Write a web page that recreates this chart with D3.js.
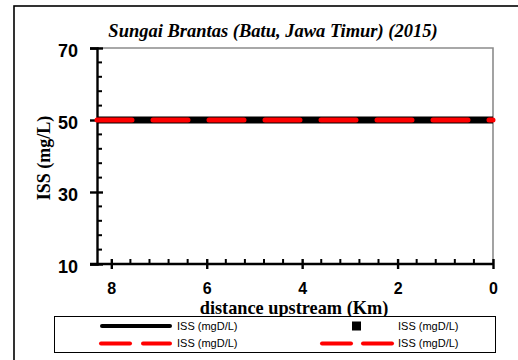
<!DOCTYPE html>
<html>
<head>
<meta charset="utf-8">
<script src="https://cdn.jsdelivr.net/npm/d3@7"></script>
<style>
  html, body { margin: 0; padding: 0; background: #fff; }
  svg { display: block; }
</style>
</head>
<body>
<svg id="chart" width="518" height="360"></svg>
<script>
// Inorganic suspended solids along the river, by distance upstream
const distanceKm = [8.3, 0];
const issObserved = [50, 50];   // solid black series
const issModel = [50, 50];      // dashed red series
const yTicks = [10, 30, 50, 70];
const xTicks = [8, 6, 4, 2, 0];
const legendLabels = ["ISS (mgD/L)", "ISS (mgD/L)", "ISS (mgD/L)", "ISS (mgD/L)"];
const chartTitle = "Sungai Brantas (Batu, Jawa Timur) (2015)";

const svg = d3.select("#chart");
const serif = "'Liberation Serif', 'Times New Roman', serif";
const sans = "'Liberation Sans', Arial, sans-serif";

// outer frame
svg.append("rect")
  .attr("x", 14).attr("y", 6).attr("width", 560).attr("height", 420)
  .attr("fill", "none").attr("stroke", "#000").attr("stroke-width", 1.6);

const plotL = 97, plotR = 493, plotT = 48, plotB = 264;
const x = d3.scaleLinear().domain([8.3, 0]).range([plotL, plotR]);
const y = d3.scaleLinear().domain([10, 70]).range([plotB, plotT]);

// grey top/right frame of the plot area
svg.append("path")
  .attr("d", `M${plotL},${plotT}H${plotR}V${plotB}`)
  .attr("fill", "none").attr("stroke", "#8c8c8c").attr("stroke-width", 1.6);

// minor ticks (inward)
const yMinor = d3.range(10, 70.001, 4).filter(v => !yTicks.includes(v));
svg.append("g").selectAll("line").data(yMinor).join("line")
  .attr("x1", plotL).attr("x2", plotL + 5)
  .attr("y1", d => y(d)).attr("y2", d => y(d))
  .attr("stroke", "#000").attr("stroke-width", 2);
const xMinor = d3.range(0, 8.3, 0.4).filter(v => !xTicks.some(t => Math.abs(t - v) < 1e-6));
svg.append("g").selectAll("line").data(xMinor).join("line")
  .attr("x1", d => x(d)).attr("x2", d => x(d))
  .attr("y1", plotB).attr("y2", plotB - 5)
  .attr("stroke", "#000").attr("stroke-width", 2);

// y axis
const yAxis = svg.append("g").attr("transform", `translate(${plotL},0)`)
  .call(d3.axisLeft(y).tickValues(yTicks).tickSize(7).tickPadding(12));
yAxis.select(".domain").attr("stroke-width", 2.4);
yAxis.selectAll(".tick line").attr("x2", -7).attr("x1", 6).attr("stroke-width", 2.4);
yAxis.selectAll(".tick text")
  .attr("font-family", sans).attr("font-weight", "bold").attr("font-size", 18)
  .attr("dy", "0.45em").attr("fill", "#000");

// x axis
const xAxis = svg.append("g").attr("transform", `translate(0,${plotB})`)
  .call(d3.axisBottom(x).tickValues(xTicks).tickSize(5).tickPadding(14));
xAxis.select(".domain").attr("stroke-width", 2.4)
  .attr("d", `M${plotL - 7},0H${plotR}`);
xAxis.selectAll(".tick line").attr("y1", -5).attr("y2", 5).attr("stroke-width", 2.4);
xAxis.selectAll(".tick text")
  .attr("font-family", sans).attr("font-weight", "bold").attr("font-size", 16)
  .attr("fill", "#000");

// series
const pts = (vals) => distanceKm.map((d, i) => [d, vals[i]]);
const line = d3.line().x(d => x(d[0])).y(d => y(d[1]));
svg.append("path").datum(pts(issObserved)).attr("d", line)
  .attr("fill", "none").attr("stroke", "#000").attr("stroke-width", 7);
svg.append("path").datum(pts(issModel)).attr("d", line)
  .attr("fill", "none").attr("stroke", "#ff0000").attr("stroke-width", 5)
  .attr("stroke-linecap", "round").attr("stroke-dasharray", "35,21");

// title and axis labels
svg.append("text").attr("x", 273).attr("y", 37).attr("text-anchor", "middle")
  .attr("font-family", serif).attr("font-weight", "bold").attr("font-style", "italic")
  .attr("font-size", 18.5).text(chartTitle);
svg.append("text").attr("transform", "translate(50,158) rotate(-90)")
  .attr("text-anchor", "middle")
  .attr("font-family", serif).attr("font-weight", "bold").attr("font-size", 18)
  .text("ISS (mg/L)");
svg.append("text").attr("x", 294).attr("y", 314).attr("text-anchor", "middle")
  .attr("font-family", serif).attr("font-weight", "bold").attr("font-size", 18.3)
  .text("distance upstream (Km)");

// legend
const lg = svg.append("g");
lg.append("rect").attr("x", 54.5).attr("y", 316.5).attr("width", 441).attr("height", 36)
  .attr("fill", "#fff").attr("stroke", "#000").attr("stroke-width", 1);
const rows = [326, 343.5];
lg.append("line").attr("x1", 102).attr("x2", 170).attr("y1", rows[0]).attr("y2", rows[0])
  .attr("stroke", "#000").attr("stroke-width", 4).attr("stroke-linecap", "round");
lg.append("rect").attr("x", 352).attr("y", rows[0] - 4.5).attr("width", 9).attr("height", 9)
  .attr("fill", "#000");
[[101, 130], [143, 170], [322, 351], [363, 392]].forEach(([a, b]) => {
  lg.append("line").attr("x1", a).attr("x2", b).attr("y1", rows[1]).attr("y2", rows[1])
    .attr("stroke", "#ff0000").attr("stroke-width", 4).attr("stroke-linecap", "round");
});
const legendPos = [[177, rows[0]], [398, rows[0]], [177, rows[1]], [398, rows[1]]];
lg.selectAll("text.lbl").data(legendLabels).join("text")
  .attr("class", "lbl")
  .attr("x", (d, i) => legendPos[i][0]).attr("y", (d, i) => legendPos[i][1])
  .attr("dy", "0.36em")
  .attr("font-family", sans).attr("font-size", 11).attr("fill", "#000")
  .text(d => d);
</script>
</body>
</html>
